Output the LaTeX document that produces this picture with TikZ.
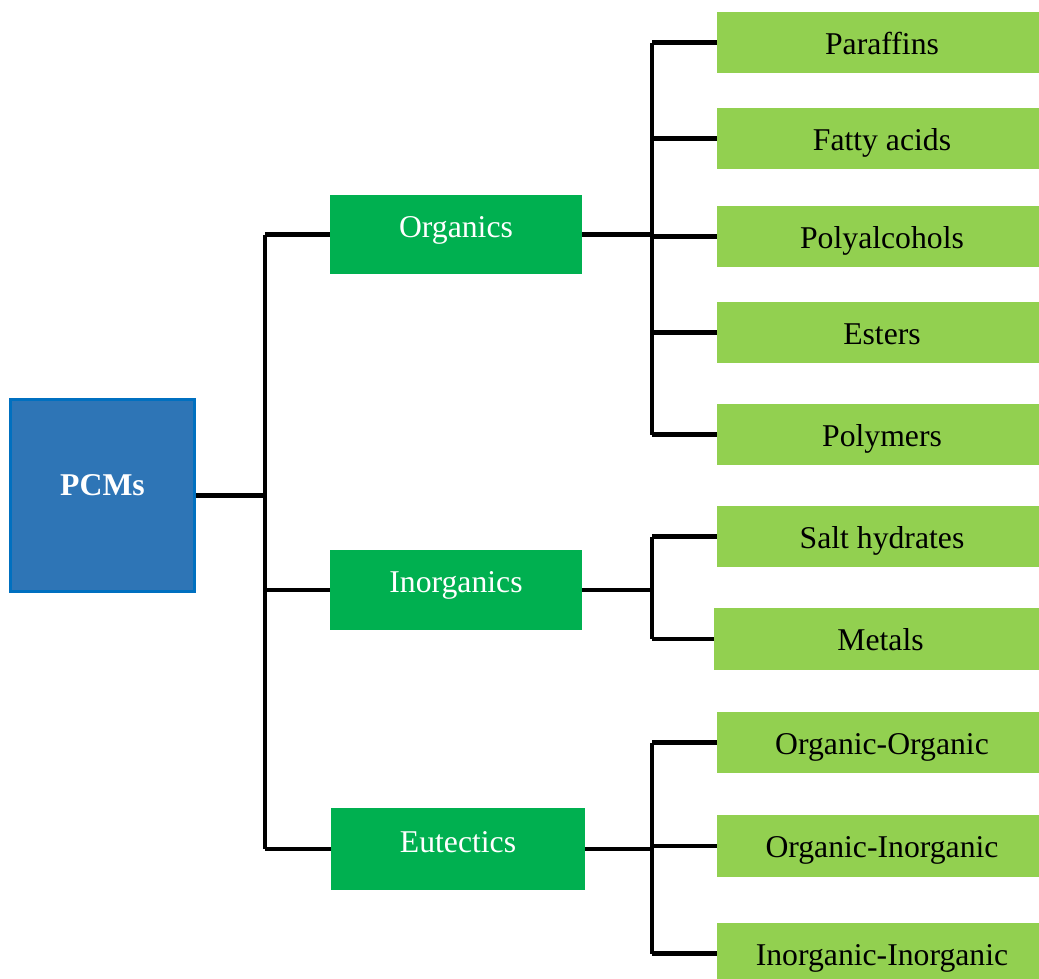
\documentclass[tikz,border=0pt]{standalone}
\usepackage{fontspec}
\setmainfont{Liberation Serif}
\definecolor{pcmblue}{HTML}{2E75B6}
\definecolor{pcmborder}{HTML}{0070C0}
\definecolor{midgreen}{HTML}{00B050}
\definecolor{leafgreen}{HTML}{92D050}
\begin{document}
\begin{tikzpicture}[x=1pt,y=-1pt,
  txt/.style={font=\fontsize{31.7}{38}\selectfont},
  rootbox/.style={fill=pcmblue, draw=pcmborder, line width=3pt, text=white, font=\fontsize{31.7}{38}\selectfont\bfseries, minimum width=184pt, minimum height=192pt, inner sep=0pt, text height=10pt, text depth=10pt},
  midbox/.style={txt, fill=midgreen, text=white, minimum width=252pt, minimum height=79pt, inner sep=0pt, text height=12pt, text depth=7pt},
  leafbox/.style={txt, fill=leafgreen, text=black, minimum width=322pt, minimum height=61pt, inner sep=0pt, text height=23pt, text depth=0pt, execute at begin node=\hspace*{8pt}},
  conn/.style={draw=black, line width=4.5pt}
]
\useasboundingbox (0,0) rectangle (1039,978);
\begin{scope}
\clip (0,0) rectangle (1039,978);
% root
\node[rootbox] (pcm) at (102.5,495.5) {PCMs};
% middle level
\node[midbox, minimum height=79pt] (org) at (456,234.5) {Organics};
\node[midbox, minimum height=80pt] (inorg) at (456,590) {Inorganics};
\node[midbox, minimum width=254pt, minimum height=82pt, text height=13pt] (eut) at (458,849) {Eutectics};
% leaves
\node[leafbox] (par) at (878,42.5) {Paraffins};
\node[leafbox] (fat) at (878,138.5) {Fatty acids};
\node[leafbox] (poa) at (878,236.5) {Polyalcohols};
\node[leafbox] (est) at (878,332.5) {Esters};
\node[leafbox] (pol) at (878,434.5) {Polymers};
\node[leafbox] (salt) at (878,536.5) {Salt hydrates};
\node[leafbox, minimum width=325pt, minimum height=62pt] (met) at (876.5,639) {Metals};
\node[leafbox] (oo) at (878,742.5) {Organic-Organic};
\node[leafbox, minimum height=62pt] (oi) at (878,846) {Organic-Inorganic};
\node[leafbox] (ii) at (878,953.5) {Inorganic-Inorganic};
\end{scope}
% trunk coordinates
\coordinate (tA) at (265,0);
\coordinate (tB) at (652,0);
% root to middle
\draw[conn] (pcm.east) -- (pcm.east -| tA);
\draw[conn] (tA |- org.west) -- (tA |- eut.west);
\draw[conn] (tA |- org.west) -- (org.west);
\draw[conn] (tA |- inorg.west) -- (inorg.west);
\draw[conn] (tA |- eut.west) -- (eut.west);
% organics
\draw[conn] (org.east) -- (org.east -| tB);
\draw[conn] (tB |- par.west) -- (tB |- pol.west);
\draw[conn] (tB |- par.west) -- (par.west);
\draw[conn] (tB |- fat.west) -- (fat.west);
\draw[conn] (tB |- poa.west) -- (poa.west);
\draw[conn] (tB |- est.west) -- (est.west);
\draw[conn] (tB |- pol.west) -- (pol.west);
% inorganics
\draw[conn] (inorg.east) -- (inorg.east -| tB);
\draw[conn] (tB |- salt.west) -- (tB |- met.west);
\draw[conn] (tB |- salt.west) -- (salt.west);
\draw[conn] (tB |- met.west) -- (met.west);
% eutectics
\draw[conn] (eut.east) -- (eut.east -| tB);
\draw[conn] (tB |- oo.west) -- (tB |- ii.west);
\draw[conn] (tB |- oo.west) -- (oo.west);
\draw[conn] (tB |- oi.west) -- (oi.west);
\draw[conn] (tB |- ii.west) -- (ii.west);
\end{tikzpicture}
\end{document}
